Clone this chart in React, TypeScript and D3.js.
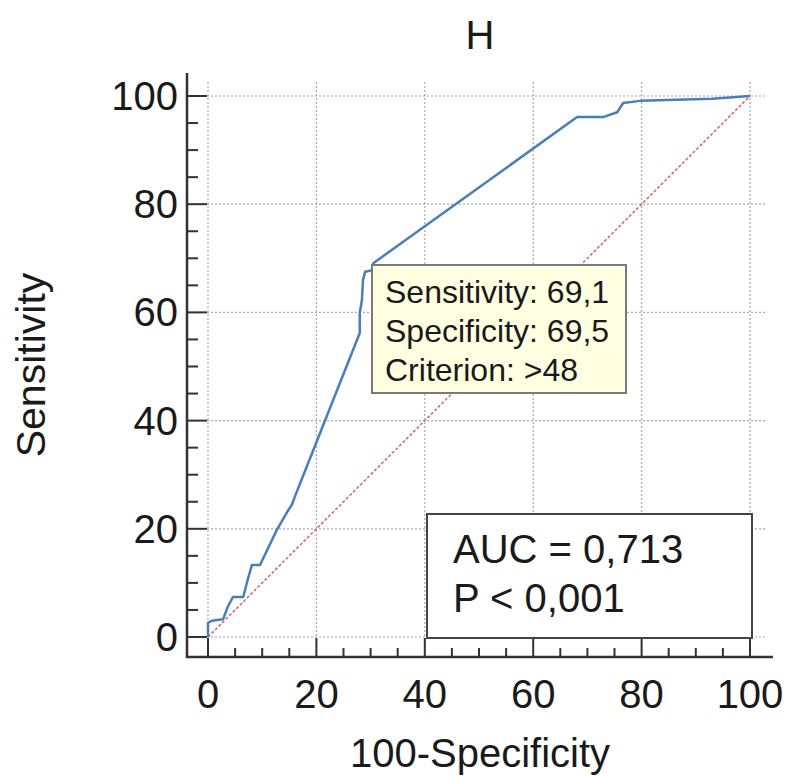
import React from "react";
import * as d3 from "d3";

const fprValues = [0, 0, 0.7, 2.8, 3.6, 4.6, 6.5, 7.3, 8.1, 9.6, 12.7, 14.6, 15.5, 16.2, 28.0, 28.0, 28.4, 28.6, 29.0, 30.3, 30.5, 68.1, 72.9, 75.5, 76.6, 79.7, 93.0, 100];
const tprValues = [0, 2.6, 3.0, 3.3, 5.5, 7.4, 7.4, 10.5, 13.3, 13.3, 19.8, 23.1, 24.5, 26.4, 56.2, 59.9, 62.3, 66.0, 67.5, 67.8, 69.1, 96.1, 96.1, 97.0, 98.7, 99.1, 99.5, 100];
const majorTicks = [0, 20, 40, 60, 80, 100];
const minorTicks = [5, 10, 15, 25, 30, 35, 45, 50, 55, 65, 70, 75, 85, 90, 95];
const tooltipLines = ["Sensitivity: 69,1", "Specificity: 69,5", "Criterion: >48"];
const statLines = ["AUC = 0,713", "P < 0,001"];
const titleText = "H";
const xLabel = "100-Specificity";
const yLabel = "Sensitivity";

export default function App() {
  const W = 785, H = 776;
  const x = d3.scaleLinear().domain([0, 100]).range([208, 750]);
  const y = d3.scaleLinear().domain([0, 100]).range([637, 96]);
  const axisX = 187;
  const axisY = 657;
  const font = "'Liberation Sans', Arial, sans-serif";
  const pts = fprValues.map((f, i) => [f, tprValues[i]] as [number, number]);
  const line = d3.line<[number, number]>().x(d => x(d[0])).y(d => y(d[1]));
  const grid = "#a8a8a8";
  const axisCol = "#333";
  const txt = "#1a1a1a";
  return (
    <svg width={W} height={H} style={{ position: "absolute", left: 0, top: 0, background: "#fff" }} fontFamily={font}>
      <rect x={0} y={0} width={W} height={H} fill="#fff" />
      {/* grid */}
      {majorTicks.map(t => (
        <line key={"gv" + t} x1={x(t)} x2={x(t)} y1={82} y2={axisY} stroke={grid} strokeWidth={1.2} strokeDasharray="2,2" />
      ))}
      {majorTicks.map(t => (
        <line key={"gh" + t} x1={axisX} x2={765} y1={y(t)} y2={y(t)} stroke={grid} strokeWidth={1.2} strokeDasharray="2,2" />
      ))}
      {/* diagonal */}
      <line x1={x(0)} y1={y(0)} x2={x(100)} y2={y(100)} stroke="#d9605f" strokeWidth={1.5} strokeDasharray="3,2" />
      {/* ROC curve */}
      <path d={line(pts) || ""} fill="none" stroke="#4a7ebb" strokeWidth={2.5} strokeLinejoin="round" />
      {/* axes */}
      <line x1={axisX} x2={axisX} y1={73} y2={axisY + 1} stroke={axisCol} strokeWidth={2.5} />
      <line x1={axisX - 1} x2={773} y1={axisY} y2={axisY} stroke={axisCol} strokeWidth={2.5} />
      {majorTicks.map(t => (
        <line key={"ty" + t} x1={axisX} x2={x(0) - 1} y1={y(t)} y2={y(t)} stroke={axisCol} strokeWidth={2} />
      ))}
      {minorTicks.map(t => (
        <line key={"tym" + t} x1={axisX} x2={axisX + 11} y1={y(t)} y2={y(t)} stroke={axisCol} strokeWidth={2} />
      ))}
      {majorTicks.map(t => (
        <line key={"tx" + t} x1={x(t)} x2={x(t)} y1={axisY} y2={y(0) + 1} stroke={axisCol} strokeWidth={2} />
      ))}
      {minorTicks.map(t => (
        <line key={"txm" + t} x1={x(t)} x2={x(t)} y1={axisY} y2={axisY - 9} stroke={axisCol} strokeWidth={2} />
      ))}
      {/* tick labels */}
      {majorTicks.map(t => (
        <text key={"ly" + t} x={178} y={y(t) + 14} textAnchor="end" fontSize={40} fill={txt}>{t}</text>
      ))}
      {majorTicks.map(t => (
        <text key={"lx" + t} x={x(t)} y={708} textAnchor="middle" fontSize={40} fill={txt}>{t}</text>
      ))}
      {/* axis labels */}
      <text x={480} y={767} textAnchor="middle" fontSize={40} fill={txt}>{xLabel}</text>
      <text transform={`translate(45,365) rotate(-90)`} textAnchor="middle" fontSize={41} fill={txt}>{yLabel}</text>
      {/* title */}
      <text x={480} y={49} textAnchor="middle" fontSize={40} fill={txt}>{titleText}</text>
      {/* tooltip */}
      <rect x={372} y={265} width={254} height={128} fill="#ffffe1" stroke="#7a7a7a" strokeWidth={2} />
      {tooltipLines.map((s, i) => (
        <text key={"tt" + i} x={385} y={303 + i * 39} fontSize={32} fill={txt}>{s}</text>
      ))}
      {/* stats box */}
      <rect x={427} y={514} width={325} height={124} fill="#fff" stroke="#444" strokeWidth={2} />
      {statLines.map((s, i) => (
        <text key={"st" + i} x={453} y={563 + i * 49} fontSize={40} fill={txt}>{s}</text>
      ))}
    </svg>
  );
}
